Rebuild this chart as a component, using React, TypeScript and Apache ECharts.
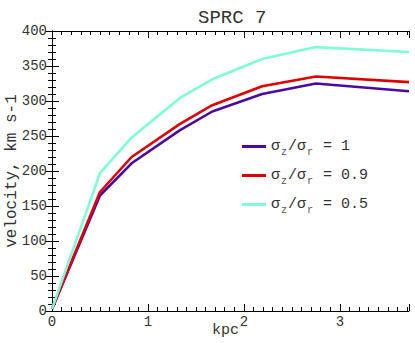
import React, { useEffect, useRef } from "react";
import * as echarts from "echarts";

const radiusKpc = [0, 0.5, 0.83, 1.33, 1.67, 2.19, 2.75, 3.72];
const velRatio1 = [3, 165, 211, 258, 285, 310, 325, 314];
const velRatio09 = [3, 170, 220, 267, 294, 321, 335, 327];
const velRatio05 = [3, 197, 248, 304, 331, 360, 377, 370];
const seriesNames = ["σz/σr = 1", "σz/σr = 0.9", "σz/σr = 0.5"];
const seriesColors = ["#4a0aa0", "#dd0000", "#7ffcd8"];
const xTickValues = [0, 1, 2, 3];
const yTickValues = [0, 50, 100, 150, 200, 250, 300, 350, 400];

const FONT = "Liberation Mono";
const X_MAX = 3.72;

export default function App() {
  const ref = useRef<HTMLDivElement>(null);
  useEffect(() => {
    if (!ref.current) return;
    const chart = echarts.init(ref.current, null, { renderer: "svg" });
    const allY = [velRatio1, velRatio09, velRatio05];
    const mk = (i: number) => ({
      name: seriesNames[i],
      type: "line",
      xAxisIndex: 0,
      yAxisIndex: 0,
      showSymbol: false,
      symbol: "none",
      lineStyle: { color: seriesColors[i], width: 2.6 },
      itemStyle: { color: seriesColors[i] },
      data: radiusKpc.map((x, k) => [x, allY[i][k]]),
    });
    const baseX = {
      type: "value",
      min: 0,
      max: X_MAX,
      splitLine: { show: false },
    };
    const legendFor = (i: number, top: number) => ({
      data: [seriesNames[i]],
      orient: "vertical",
      left: 242,
      top,
      padding: 0,
      icon: "rect",
      itemWidth: 24,
      itemHeight: 3,
      itemGap: 0,
      formatter: (name: string) => {
        const v = name.split("= ")[1];
        return `{a|σ}{s|z}{a|/σ}{s|r}{a| = ${v}}`;
      },
      textStyle: {
        fontFamily: FONT,
        color: "#333",
        rich: {
          a: { fontFamily: FONT, fontSize: 15, color: "#333" },
          s: { fontFamily: FONT, fontSize: 10, color: "#555", padding: [11, 1, 0, 1] },
        },
      },
    });
    chart.setOption({
      animation: false,
      backgroundColor: "#fff",
      title: {
        text: "SPRC 7",
        left: 193,
        top: 3,
        textStyle: { fontFamily: FONT, fontSize: 19, fontWeight: "normal", color: "#333" },
      },
      legend: [legendFor(0, 139), legendFor(1, 168), legendFor(2, 197)],
      grid: { left: 52, right: 6, top: 31, bottom: 32, containLabel: false, outerBoundsMode: "none" },
      xAxis: [
        {
          ...baseX,
          position: "bottom",
          interval: 1,
          name: "kpc",
          nameLocation: "middle",
          nameGap: 12,
          nameMoveOverlap: false,
          nameTextStyle: {
            fontFamily: FONT,
            fontSize: 15,
            color: "#333",
            verticalAlign: "top",
            padding: [0, 10, 0, 0],
          },
          axisLine: { show: true, lineStyle: { color: "#000", width: 1 } },
          axisTick: { show: true, inside: true, length: 7, lineStyle: { color: "#000" } },
          axisLabel: {
            fontFamily: FONT,
            fontSize: 14,
            color: "#333",
            margin: 4,
            formatter: (v: number) => (xTickValues.includes(v) ? String(v) : ""),
          },
        },
        {
          ...baseX,
          position: "bottom",
          interval: 0.1,
          axisLine: { show: false },
          axisTick: { show: true, inside: true, length: 4, lineStyle: { color: "#000" } },
          axisLabel: { show: false },
        },
        {
          ...baseX,
          position: "top",
          interval: 1,
          axisLine: { show: true, lineStyle: { color: "#000", width: 1 } },
          axisTick: { show: true, inside: true, length: 7, lineStyle: { color: "#000" } },
          axisLabel: { show: false },
        },
        {
          ...baseX,
          position: "top",
          interval: 0.1,
          axisLine: { show: false },
          axisTick: { show: true, inside: true, length: 4, lineStyle: { color: "#000" } },
          axisLabel: { show: false },
        },
      ],
      yAxis: [
        {
          type: "value",
          position: "left",
          min: 0,
          max: 400,
          interval: 50,
          name: "velocity, km s-1",
          nameLocation: "middle",
          nameGap: 32,
          nameMoveOverlap: false,
          nameTextStyle: { fontFamily: FONT, fontSize: 16, color: "#333" },
          splitLine: { show: false },
          axisLine: { show: true, lineStyle: { color: "#000", width: 1 } },
          axisTick: { show: true, inside: true, length: 7, lineStyle: { color: "#000" } },
          minorTick: { show: true, splitNumber: 5, length: 4, lineStyle: { color: "#000" } },
          minorSplitLine: { show: false },
          axisLabel: {
            fontFamily: FONT,
            fontSize: 14,
            color: "#333",
            margin: 5,
            formatter: (v: number) => (yTickValues.includes(v) ? String(v) : ""),
          },
        },
        {
          type: "value",
          position: "right",
          min: 0,
          max: 400,
          interval: 50,
          splitLine: { show: false },
          axisLine: { show: true, lineStyle: { color: "#000", width: 1 } },
          axisTick: { show: true, inside: true, length: 7, lineStyle: { color: "#000" } },
          minorTick: { show: true, splitNumber: 5, length: 4, lineStyle: { color: "#000" } },
          minorSplitLine: { show: false },
          axisLabel: { show: false },
        },
      ],
      series: [mk(0), mk(1), mk(2)],
    });
    return () => chart.dispose();
  }, []);
  return (
    <div
      ref={ref}
      style={{ position: "fixed", left: 0, top: 0, width: 415, height: 343 }}
    />
  );
}
